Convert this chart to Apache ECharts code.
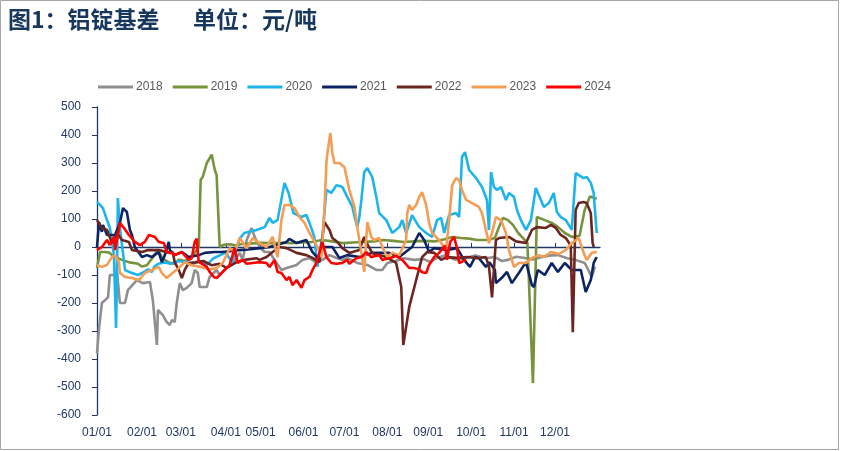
<!DOCTYPE html>
<html><head><meta charset="utf-8">
<script src="https://cdn.jsdelivr.net/npm/echarts@6/dist/echarts.min.js"></script>
<style>html,body{margin:0;padding:0;background:#fff}#c{width:850px;height:451px}</style>
</head><body><div id="c"></div>
<script>
// x = trading-day index within the year
const monthIdx = [0,22,41,63,80,101,121,142,162,183,204,224];
const monthLabels = ['01/01','02/01','03/01','04/01','05/01','06/01','07/01','08/01','09/01','10/01','11/01','12/01'];
const seriesNames = ['2018','2019','2020','2021','2022','2023','2024'];
const seriesColors = ['#8f8f8f','#77933c','#1cb4ea','#0c2466','#6b2622','#f59d55','#ff0000'];

const s2018 = [[0,-380],[1,-290],[2.4,-200],[5.4,-180],[6.3,-100],[7.8,-100],[9.8,-90],[11.2,-200],[13.7,-200],[15.1,-154],[19.5,-118],[22.4,-129],[25.9,-125],[27.3,-189],[29.3,-350],[29.8,-225],[32.2,-243],[34.1,-268],[35.6,-279],[36.6,-261],[38,-268],[39,-200],[40.5,-129],[42,-154],[43.9,-146],[46.3,-129],[47.8,-82],[49.3,-93],[50.2,-143],[53.7,-143],[55.1,-107],[58.5,-82],[60,-100],[63.4,-75],[66.3,-57],[69.8,-21],[71.2,-46],[73.2,25],[75.6,68],[77.1,36],[79.5,0],[82,-18],[84.4,-18],[86.8,-46],[90.2,-82],[92.7,-75],[97.6,-64],[100.5,-46],[103.9,-39],[107.3,-57],[110.2,-46],[113.7,-29],[117.1,-39],[120,-46],[122.4,-39],[127.3,-57],[132.2,-64],[136.6,-82],[139.5,-82],[142,-57],[146,-50],[150,-40],[155.1,-46],[160,-43],[162.9,-54],[166,-40],[170,-30],[175,-45],[180,-40],[185,-30],[190,-40],[194.6,-36],[198,-50],[201,-46],[205,-35],[209.3,-39],[213,-45],[217.6,-36],[222,-30],[225.4,-29],[230,-40],[234,-46],[238.5,-57],[242,-107],[243.5,-70]];

const s2019 = [[0,-75],[1.5,-18],[4,-18],[6,-20],[8.3,-35],[12.2,-46],[16,-55],[20,-60],[22,-70],[24.4,-65],[27,-40],[29.8,-10],[32,-40],[35,-55],[38,-60],[40,-45],[43,-50],[46,-40],[48.8,-10],[49.8,0],[50.7,240],[51.7,250],[53.7,300],[56.1,330],[57.6,275],[58.5,257],[60,0],[62,8],[65,10],[68,5],[70,10],[75,12],[80,15],[85,14],[90,15],[95,14],[100,16],[105,18],[110,25],[115,20],[120,14],[125,16],[130,18],[135,20],[140,25],[145,22],[150,18],[155,20],[160,22],[165,20],[170,28],[173.7,36],[178,32],[182,30],[186,25],[191,25],[194.6,32],[196.6,71],[198.5,104],[201,96],[203.4,79],[206,50],[207.8,36],[210.5,14],[213.2,-486],[215.1,107],[219,96],[222.4,86],[225.5,71],[228.8,50],[232.2,36],[236,40],[238.5,132],[241,180],[243.4,175],[244.4,172]];

const s2020 = [[0,161],[1.5,150],[2.9,139],[4.9,96],[6.3,68],[7.3,20],[8.3,-30],[9.3,-289],[9.8,-100],[10.2,175],[11.2,68],[12.7,-20],[13.7,-82],[16,-90],[20,-100],[22,-93],[25,-80],[26.8,-89],[28,-70],[30,-60],[33,-55],[36,-60],[40,-50],[44,-55],[47,-60],[50,-50],[53.7,-64],[57,-40],[60,-30],[63,-20],[66,-55],[68,-10],[69.8,30],[72,50],[75,55],[78,61],[82,71],[84.4,104],[85.9,86],[88.3,96],[91.7,229],[93.7,193],[96.1,121],[100,107],[102.4,114],[103.9,86],[106.3,36],[107.8,-71],[108.8,-18],[110.2,36],[112.2,204],[114.6,193],[117.1,221],[120,214],[122.4,179],[124.9,143],[125.9,110],[127.3,71],[128.3,107],[129.3,168],[130.7,268],[132.2,282],[134.6,250],[136.6,179],[138,121],[141.5,96],[144.4,50],[147.8,71],[149.3,96],[151.2,50],[154.1,114],[157.6,71],[161,50],[163.9,36],[166.3,96],[168.3,104],[169.8,50],[172.2,114],[175.6,121],[177.1,107],[178.5,321],[180,339],[182,275],[185.4,246],[188.3,214],[190.7,168],[191.7,61],[192.7,268],[194.1,214],[195.6,204],[197.6,214],[200,168],[201.5,193],[203.9,179],[205.4,132],[207.3,96],[209.8,61],[212.2,96],[214.6,211],[217.1,168],[218.5,143],[221,157],[223.4,193],[224.9,125],[226.8,107],[229.3,96],[232.2,61],[234.1,264],[235.6,257],[238,246],[239.5,250],[241.5,229],[242.9,193],[244.4,50]];

const s2021 = [[0,0],[1,89],[2.4,54],[2.9,79],[4.9,43],[8.8,43],[11.2,86],[12.7,139],[14.6,125],[15.1,132],[16.1,61],[17.1,43],[18.5,0],[22,-36],[24.4,-29],[26.8,-36],[30.2,-18],[31.7,-54],[33.2,-29],[35.1,18],[35.6,-11],[38,-29],[41.5,-18],[44.9,-36],[49.8,-29],[52.7,-21],[57.6,-18],[61,-18],[65,-15],[69.8,-11],[75,-8],[79.5,-4],[84.4,0],[92.7,18],[94.1,29],[97.6,14],[102.4,25],[105.4,-18],[108.8,-46],[110.2,0],[115.1,0],[118.5,-39],[122.4,-29],[128.3,-36],[134.6,-21],[142.9,-21],[147.8,-36],[154.1,0],[157.6,50],[160,25],[162.4,-18],[164.9,-4],[171.2,-11],[176.1,-4],[179.5,-46],[182.4,-71],[184.9,-36],[186.8,-40],[190.2,-71],[192,-55],[194.6,-82],[195.1,-129],[198,-110],[200.5,-89],[202.9,-129],[206.3,-93],[209.8,-54],[212.7,-136],[213.7,-143],[215.6,-82],[219,-100],[222.4,-57],[225.4,-89],[228.8,-57],[232.2,-82],[236.6,-82],[239,-161],[241.5,-118],[242.9,-57],[244.4,-36]];

const s2022 = [[0,96],[2.4,68],[4.9,61],[7.3,14],[9.8,50],[12.2,25],[15.6,18],[17.1,-11],[22,-18],[25,-11],[30.2,-11],[35.6,-21],[37,-18],[38,-54],[40,-82],[41.5,-111],[42.9,-82],[44.9,-57],[48,-55],[52,-50],[56,-65],[60,-60],[63.4,-75],[68.3,-54],[73,-45],[78,-40],[79.5,-46],[82.9,-36],[85.9,-18],[89.3,0],[92.7,-4],[97.6,-21],[102.4,-29],[105.4,-39],[108.8,-54],[111.2,89],[113.7,61],[115.1,32],[117.6,18],[120,-4],[123.4,-21],[128.3,-11],[130.7,36],[132.2,10],[134.6,-21],[141.5,-36],[146.3,-57],[148.8,-143],[149.8,-350],[152.7,-214],[156.1,-118],[159,-36],[161.5,-18],[165,-21],[168.3,-46],[171.2,-36],[176.1,-39],[181,-36],[186,-40],[190.2,-36],[191.7,-70],[193.2,-180],[195.1,25],[196.6,32],[201.5,36],[204.9,20],[209.8,14],[212.7,61],[215.1,71],[219.5,68],[222,79],[224.4,68],[226.8,43],[229.3,32],[231.7,5],[232.7,-304],[234.1,132],[235.6,157],[238,161],[239.5,157],[241.5,121],[242.4,14],[243,0]];

const s2023 = [[0,-64],[2.4,-71],[4.9,-64],[7.3,-36],[8.8,-30],[10.7,-54],[11.2,-93],[13.7,-107],[17.1,-111],[20.5,-118],[22,-105],[23.4,-93],[26.8,-82],[30.2,-71],[31.7,-93],[34.1,-111],[36.6,-95],[40,-75],[42.9,-54],[46.3,-65],[50,-70],[55,-80],[58.5,-75],[61.5,-57],[64.9,-4],[67.3,-18],[69.8,32],[73.2,-5],[76.1,32],[79.5,14],[82.9,0],[85.9,36],[88.3,-36],[90.2,96],[91.7,150],[94.1,150],[96.6,139],[99,107],[101.5,86],[103.9,50],[105.4,32],[107.8,0],[109.8,-36],[111.2,132],[112.2,300],[112.7,336],[114.1,407],[115.1,336],[116.1,300],[118.5,300],[121,286],[123.4,204],[125.9,143],[127.3,71],[129.3,-21],[130.7,-89],[132.2,89],[134.1,36],[135.6,25],[138,32],[139.5,0],[142,-36],[144.4,-20],[147.8,-30],[151.2,25],[151.7,121],[152.7,150],[154.1,132],[156.1,150],[157.6,179],[159,196],[161,150],[162.4,86],[163.9,50],[167.3,25],[170.7,-10],[172.2,96],[173.7,221],[175.6,246],[177.1,239],[178.5,204],[180.5,168],[183.4,157],[186.8,143],[188.3,121],[190.2,61],[191.7,14],[193.2,50],[195.1,107],[197.6,96],[200,50],[201.5,-11],[203.9,-71],[206.3,-57],[209.8,-57],[212.7,-39],[216.1,-29],[218.5,-36],[222,-18],[225.9,-25],[229.3,-10],[232.2,14],[235.6,32],[238,-21],[239.5,-46],[242,-21],[244.4,-18]];

const s2024 = [[0,-11],[2.4,0],[4.9,25],[6.3,7],[8.3,36],[8.8,-11],[10.7,61],[11.2,86],[13.2,68],[15.6,43],[18.5,18],[21,7],[23.4,18],[25.4,43],[28.3,36],[30.2,18],[32.7,14],[34.1,-18],[36.6,-22],[38,-29],[41.5,-18],[44.9,-46],[46.3,-40],[47.8,18],[48.8,30],[49.3,-20],[49.8,-54],[52.2,-64],[53.7,-71],[55.1,-89],[57.1,-107],[58.5,-111],[60,-100],[62.4,-82],[64.9,-64],[67.3,-4],[68.8,-57],[71.2,-46],[73.2,-60],[76.1,-57],[79.5,-54],[82.9,-57],[84.4,-71],[86.8,-46],[88.3,-89],[90.2,-93],[92.7,-118],[94.1,-107],[95.6,-136],[97.6,-118],[100,-146],[101.5,-118],[103.9,-107],[105.4,-82],[107.3,-57],[108.8,-21],[110.2,18],[112.2,-36],[114.6,-57],[117.1,-60],[120,-57],[122.4,-46],[123.4,-60],[126.8,-40],[129.3,-36],[131.7,-18],[134.1,-36],[138,-29],[139.5,-46],[142.9,-40],[146.3,-32],[149.3,-46],[152.7,-75],[155.1,-75],[157.6,-80],[159,-90],[161,-93],[162.4,-64],[164.9,-36],[167.3,-21],[170.2,5],[171.2,-46],[172.7,18],[174.6,36],[176.1,-5],[177.1,-57],[180.5,-46]];

const allData = [s2018,s2019,s2020,s2021,s2022,s2023,s2024];
const yTicks = {min:-600, max:500, interval:100};

const chart = echarts.init(document.getElementById('c'), null, {renderer:'canvas'});
const navy = '#1f3864';
const titleStyle = {fontFamily:'Noto Sans CJK SC', fontSize:23, fontWeight:'bold', color:'#17375e'};
chart.setOption({
  animation:false,
  backgroundColor:'#fff',
  title:[{text:'图1：铝锭基差', left:3, top:3, textStyle:titleStyle},
         {text:'单位：元/吨', left:188, top:3, textStyle:titleStyle}],
  graphic:[{type:'rect', shape:{x:0.5,y:0.5,width:838,height:449}, style:{fill:'none', stroke:'#a6a6a6', lineWidth:1}, silent:true}],
  legend:{top:81, left:98, padding:0, itemWidth:35, itemHeight:3, itemGap:10, icon:'rect',
    textStyle:{fontFamily:'Liberation Sans', fontSize:12, color:'#595959', padding:[0,0,0,-2]},
    data:seriesNames},
  grid:{left:97, right:250, top:107, bottom:36},
  xAxis:[{type:'value', min:0, max:246, position:'bottom',
    axisLine:{show:false, onZero:false}, axisTick:{show:false}, splitLine:{show:false},
    axisLabel:{customValues:monthIdx, margin:12, color:navy, fontFamily:'Liberation Sans', fontSize:12,
      formatter:v=>monthLabels[monthIdx.indexOf(v)]}},
   {type:'value', min:0, max:246, position:'top',
    axisLine:{show:true, onZero:true, lineStyle:{color:navy, width:1.3}},
    axisTick:{show:true, customValues:monthIdx.slice(1), length:4, lineStyle:{color:navy}},
    axisLabel:{show:false}, splitLine:{show:false}}],
  yAxis:{type:'value', min:yTicks.min, max:yTicks.max, interval:yTicks.interval,
    axisLine:{show:true, lineStyle:{color:navy, width:1.3}},
    axisTick:{show:true, length:5, lineStyle:{color:navy}},
    splitLine:{show:false},
    axisLabel:{color:navy, fontFamily:'Liberation Sans', fontSize:12, margin:16}},
  series: seriesNames.map((n,i)=>({name:n, type:'line', xAxisIndex:0, data:allData[i],
    showSymbol:false, symbol:'none', color:seriesColors[i],
    lineStyle:{width:2.6, color:seriesColors[i]}}))
});
</script></body></html>
